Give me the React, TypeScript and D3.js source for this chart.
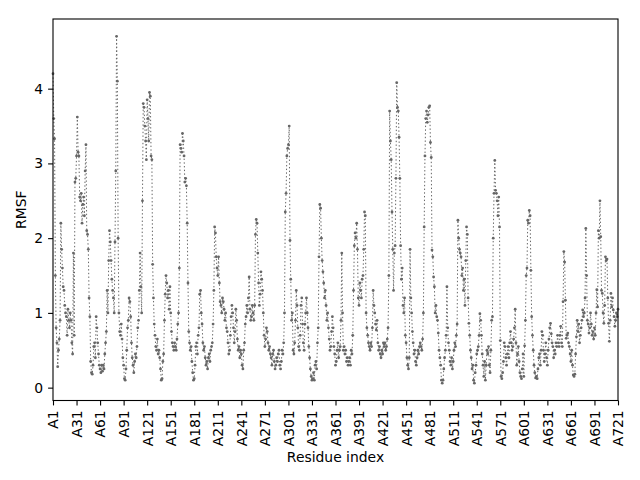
import * as d3 from 'd3';
import { useEffect, useRef } from 'react';

// RMSF per residue in blocks of 120 residues
const rmsfA1 = [
  4.2, 3.6, 3.33, 1.5, 0.8, 0.6, 0.28, 0.5, 0.65, 0.9, 2.2, 1.85, 1.6, 1.35, 1.3, 1.1, 1.0, 0.95, 0.7, 1.05,
  0.9, 0.8, 1.0, 0.9, 0.6, 0.45, 1.8, 0.7, 2.75, 2.8, 3.1, 3.62, 3.15, 3.1, 2.55, 2.5, 2.6, 2.2, 2.45, 2.55,
  2.3, 2.9, 3.25, 2.1, 2.05, 1.85, 1.2, 0.95, 0.35, 0.2, 0.18, 0.3, 0.55, 0.6, 0.4, 0.95, 0.8, 0.6, 0.45, 0.3,
  0.25, 0.2, 0.3, 0.22, 0.3, 0.25, 0.45, 0.6, 0.75, 1.3, 1.0, 1.7, 2.1, 1.95, 1.7, 1.45, 1.3, 1.2, 1.0, 1.95,
  2.9, 4.7, 4.1, 2.0, 1.0, 0.75, 0.7, 0.85, 0.65, 0.4, 0.3, 0.12, 0.1, 0.25, 0.5, 0.8, 0.9, 1.2, 1.15, 0.95,
  0.6, 0.4, 0.3, 0.2, 0.35, 0.45, 0.4, 0.55, 0.8, 0.9, 1.3, 1.8, 1.35, 1.0, 2.5, 3.8, 3.75, 3.5, 3.3, 3.05
];
const rmsfA121 = [
  3.85, 3.6, 3.3, 3.95, 3.9, 3.1, 3.05, 1.65, 1.2, 0.85, 0.7, 0.55, 0.5, 0.65, 0.45, 0.5, 0.4, 0.25, 0.1, 0.12,
  0.35, 0.45, 0.9, 1.25, 1.5, 1.4, 1.2, 1.3, 1.05, 1.35, 1.0, 0.75, 0.6, 0.55, 0.5, 0.6, 0.55, 0.5, 0.65, 0.85,
  1.0, 1.6, 3.25, 3.2, 3.15, 3.4, 3.3, 3.1, 2.75, 2.8, 2.7, 2.2, 1.4, 0.75, 0.6, 0.5, 0.55, 0.35, 0.2, 0.1,
  0.12, 0.3, 0.55, 0.6, 0.45, 0.7, 0.8, 1.25, 1.3, 1.0, 0.85, 0.6, 0.5, 0.55, 0.4, 0.3, 0.35, 0.25, 0.4, 0.45,
  0.35, 0.5, 0.55, 0.6, 0.85, 1.3, 2.15, 2.07, 1.75, 1.6, 1.5, 1.75, 1.4, 1.15, 1.1, 1.0, 1.2, 1.15, 1.05, 0.9,
  1.0, 0.8, 0.75, 0.6, 0.45, 0.5, 0.7, 0.95, 1.1, 1.0, 0.8, 0.6, 0.75, 1.05, 0.9, 0.65, 0.5, 0.55, 0.4, 0.5
];
const rmsfA241 = [
  0.45, 0.3, 0.25, 0.5, 0.6, 0.85, 0.95, 1.1, 1.0, 1.2, 1.48, 1.05, 0.9, 0.95, 1.1, 1.0, 0.9, 1.1, 2.05, 2.25,
  2.2, 1.8, 1.4, 1.1, 1.25, 1.55, 1.45, 1.3, 1.0, 0.7, 0.55, 0.65, 0.8, 0.75, 0.6, 0.5, 0.55, 0.45, 0.4, 0.3,
  0.45, 0.5, 0.35, 0.25, 0.3, 0.4, 0.35, 0.45, 0.5, 0.3, 0.25, 0.35, 0.5, 0.45, 0.6, 1.0, 2.35, 2.6, 3.1, 3.2,
  3.25, 3.5, 1.97, 1.45, 0.9, 1.0, 0.5, 0.45, 0.6, 0.9, 1.3, 1.1, 0.8, 0.55, 0.5, 0.7, 1.1, 1.2, 0.85, 0.6,
  0.5, 0.85, 1.0, 1.2, 1.0, 0.8, 0.55, 0.4, 0.25, 0.15, 0.1, 0.12, 0.2, 0.1, 0.3, 0.35, 0.25, 0.6, 0.8, 1.75,
  2.45, 2.4, 2.0, 1.7, 1.55, 1.4, 1.2, 1.3, 1.1, 0.9, 1.0, 0.8, 0.65, 0.5, 0.55, 0.75, 0.95, 0.8, 0.55, 0.45
];
const rmsfA361 = [
  0.3, 0.35, 0.5, 0.6, 0.4, 0.5, 0.55, 0.9, 1.8, 1.0, 0.5, 0.55, 0.45, 0.5, 0.35, 0.4, 0.3, 0.35, 0.4, 0.3,
  0.5, 0.45, 0.7, 1.3, 1.9, 2.07, 2.0, 2.2, 1.85, 1.2, 1.1, 1.4, 1.3, 1.2, 1.45, 1.5, 1.85, 2.35, 2.3, 1.0,
  0.8, 0.7, 0.6, 0.55, 0.5, 0.6, 0.55, 0.8, 1.3, 1.1, 1.0, 0.85, 0.77, 0.9, 0.6, 0.5, 0.55, 0.45, 0.4, 0.5,
  0.45, 0.6, 0.55, 0.6, 0.5, 0.55, 0.65, 0.8, 1.5, 3.7, 3.3, 3.05, 2.35, 1.85, 1.3, 1.8, 1.9, 2.8, 4.08, 3.75,
  3.7, 3.35, 2.8, 1.9, 1.45, 1.6, 1.1, 1.0, 1.2, 0.7, 0.6, 0.4, 0.3, 0.25, 0.4, 1.85, 1.2, 1.0, 0.75, 0.6,
  0.45, 0.5, 0.35, 0.3, 0.4, 0.5, 0.45, 0.55, 0.6, 0.55, 0.5, 0.65, 1.0, 2.15, 3.1, 3.6, 3.7, 3.55, 3.65, 3.75
];
const rmsfA481 = [
  3.77, 3.28, 3.08, 1.84, 1.75, 1.48, 1.35, 1.0, 1.1, 0.95, 0.9, 0.73, 0.5, 0.4, 0.3, 0.1, 0.06, 0.1, 0.25, 0.4,
  0.5, 0.7, 1.35, 0.8, 0.6, 0.5, 0.35, 0.3, 0.4, 0.25, 0.35, 0.5, 0.6, 0.55, 0.7, 0.85, 2.24, 2.0, 1.85, 1.8,
  1.75, 1.5, 1.6, 1.3, 1.45, 1.1, 1.7, 2.15, 2.05, 1.2, 0.86, 0.7, 0.5, 0.4, 0.25, 0.3, 0.1, 0.06, 0.2, 0.3,
  0.45, 0.5, 0.55, 0.7, 0.99, 0.9, 0.7, 0.45, 0.3, 0.15, 0.35, 0.1, 0.3, 0.5, 0.45, 0.55, 0.3, 0.2, 0.5, 0.9,
  0.95, 2.0, 2.6, 3.04, 2.64, 2.6, 2.5, 2.3, 2.55, 2.15, 0.63, 0.15, 0.12, 0.2, 0.35, 0.6, 0.55, 0.4, 0.3, 0.45,
  0.55, 0.4, 0.6, 0.75, 0.6, 0.5, 0.55, 0.65, 0.8, 1.05, 0.6, 0.3, 0.45, 0.55, 0.35, 0.2, 0.15, 0.12, 0.25, 0.45
];
const rmsfA601 = [
  0.15, 0.56, 0.9, 1.5, 1.6, 2.24, 2.2, 2.37, 2.3, 1.57, 0.95, 0.7, 0.5, 0.3, 0.2, 0.13, 0.15, 0.12, 0.25, 0.4,
  0.45, 0.3, 0.5, 0.75, 0.7, 0.5, 0.35, 0.45, 0.6, 0.4, 0.3, 0.5, 0.65, 0.8, 0.86, 0.72, 0.6, 0.55, 0.4, 0.5,
  0.45, 0.6, 0.55, 0.7, 0.6, 0.55, 0.7, 0.82, 0.6, 0.55, 1.15, 1.82, 1.68, 1.17, 0.66, 0.7, 0.73, 0.6, 0.55, 0.45,
  0.35, 0.5, 0.3, 0.17, 0.15, 0.18, 0.45, 0.68, 0.9, 0.75, 0.85, 0.6, 0.7, 0.8, 0.9, 1.04, 0.95, 1.0, 1.2, 2.13,
  1.5, 0.9, 0.85, 0.73, 0.8, 1.0, 0.85, 0.7, 0.75, 0.65, 0.8, 0.7, 1.0, 1.31, 1.08, 2.1, 2.0, 2.5, 2.02, 1.3,
  1.26, 1.0, 0.86, 1.1, 1.75, 1.7, 1.72, 1.2, 0.86, 0.62, 0.9, 1.26, 1.08, 1.2, 1.04, 0.95, 0.82, 0.9, 1.0, 0.95,
  1.05
];

const rmsf = [...rmsfA1, ...rmsfA121, ...rmsfA241, ...rmsfA361, ...rmsfA481, ...rmsfA601];
const residues = rmsf.map((_, i) => i + 1);

const xTickValues = [1, 31, 61, 91, 121, 151, 181, 211, 241, 271, 301, 331, 361, 391, 421, 451, 481, 511, 541, 571, 601, 631, 661, 691, 721];
const xTickLabels = ['A1', 'A31', 'A61', 'A91', 'A121', 'A151', 'A181', 'A211', 'A241', 'A271', 'A301', 'A331', 'A361', 'A391', 'A421', 'A451', 'A481', 'A511', 'A541', 'A571', 'A601', 'A631', 'A661', 'A691', 'A721'];
const yTickValues = [0, 1, 2, 3, 4];

const App = () => {
  const ref = useRef<SVGSVGElement | null>(null);

  useEffect(() => {
    if (!ref.current) return;

    const svg = d3.select(ref.current);
    svg.selectAll('*').remove();

    const width = 640;
    const height = 480;
    const left = 53;
    const right = 618;
    const top = 19;
    const bottom = 400.5;
    const fontSize = 13.9;
    const color = '#666666';

    const lo = d3.min(rmsf) as number;
    const hi = d3.max(rmsf) as number;
    const pad = (hi - lo) * 0.05;

    const x = d3.scaleLinear().domain([1, 721]).range([left, right]);
    const y = d3.scaleLinear().domain([lo - pad, hi + pad]).range([bottom, top]);

    svg
      .attr('width', width)
      .attr('height', height)
      .style('font-family', '"DejaVu Sans", sans-serif');

    svg.append('rect').attr('width', width).attr('height', height).attr('fill', '#ffffff');

    const line = d3
      .line<number>()
      .x((_, i) => x(residues[i]))
      .y(d => y(d));

    svg
      .append('path')
      .datum(rmsf)
      .attr('d', line)
      .attr('fill', 'none')
      .attr('stroke', color)
      .attr('stroke-width', 1)
      .attr('stroke-dasharray', '1.4,2.3');

    svg
      .append('g')
      .selectAll('circle')
      .data(rmsf)
      .join('circle')
      .attr('cx', (_, i) => x(residues[i]))
      .attr('cy', d => y(d))
      .attr('r', 1.4)
      .attr('fill', color);

    // spines
    svg
      .append('rect')
      .attr('x', left)
      .attr('y', top)
      .attr('width', right - left)
      .attr('height', bottom - top)
      .attr('fill', 'none')
      .attr('stroke', '#000')
      .attr('stroke-width', 1.1);

    const xAxis = d3
      .axisBottom(x)
      .tickValues(xTickValues)
      .tickFormat((_, i) => xTickLabels[i])
      .tickSize(4.9)
      .tickPadding(4.9);

    const gx = svg.append('g').attr('transform', `translate(0,${bottom})`).call(xAxis);
    gx.select('.domain').remove();
    gx.selectAll('line').attr('stroke-width', 1.1);
    gx.selectAll('text')
      .attr('font-size', fontSize)
      .attr('font-family', '"DejaVu Sans", sans-serif')
      .attr('fill', '#000')
      .attr('transform', 'rotate(-90)')
      .attr('text-anchor', 'end')
      .attr('x', -9.8)
      .attr('y', 0)
      .attr('dy', '0.35em');

    const yAxis = d3.axisLeft(y).tickValues(yTickValues).tickFormat(d3.format('d')).tickSize(4.9).tickPadding(4.9);
    const gy = svg.append('g').attr('transform', `translate(${left},0)`).call(yAxis);
    gy.select('.domain').remove();
    gy.selectAll('line').attr('stroke-width', 1.1);
    gy.selectAll('text')
      .attr('font-size', fontSize)
      .attr('font-family', '"DejaVu Sans", sans-serif')
      .attr('fill', '#000');

    svg
      .append('text')
      .attr('x', (left + right) / 2)
      .attr('y', 462)
      .attr('text-anchor', 'middle')
      .attr('font-size', fontSize)
      .text('Residue index');

    svg
      .append('text')
      .attr('transform', `translate(26,${(top + bottom) / 2}) rotate(-90)`)
      .attr('text-anchor', 'middle')
      .attr('font-size', fontSize)
      .text('RMSF');
  }, []);

  return <svg ref={ref} style={{ position: 'absolute', left: 0, top: 0 }} />;
};

export default App;
